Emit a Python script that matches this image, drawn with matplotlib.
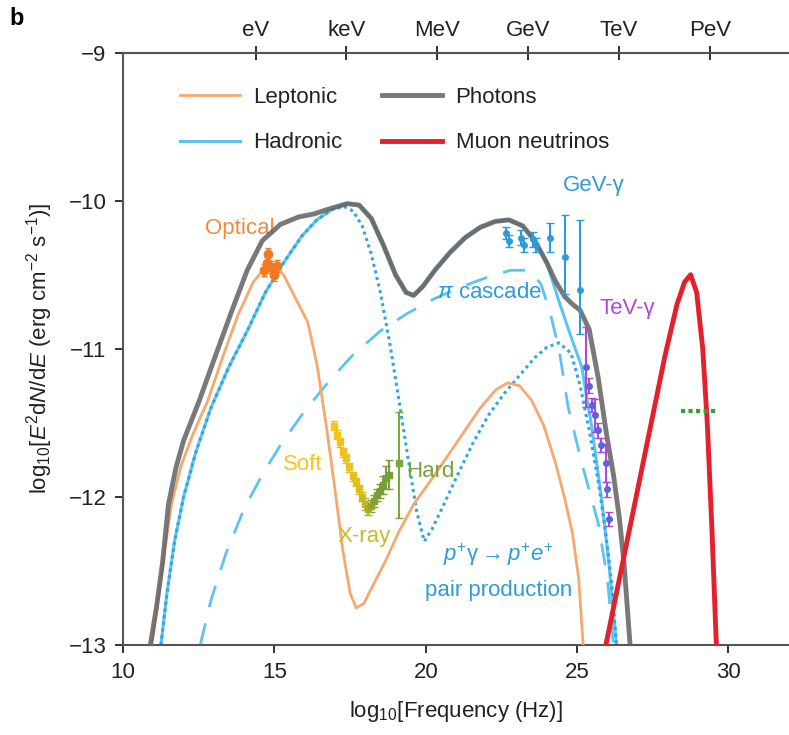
import numpy as np
import matplotlib
matplotlib.use('Agg')
import matplotlib.pyplot as plt

# Fuentes parecidas a Helvetica
plt.rcParams['font.family'] = ['Liberation Sans', 'DejaVu Sans']
plt.rcParams['mathtext.fontset'] = 'custom'
plt.rcParams['mathtext.rm'] = 'Liberation Sans'
plt.rcParams['mathtext.it'] = 'Liberation Sans:italic'
plt.rcParams['mathtext.bf'] = 'Liberation Sans:bold'
plt.rcParams['font.size'] = 16

# Curvas del modelo (log10 frecuencia, log10 E^2 dN/dE)
ph_x = [10.9, 11.1, 11.3, 11.5, 11.75, 12.0, 12.5, 13.1, 13.6, 14.1, 14.6, 15.2, 15.8, 16.3, 16.9, 17.4,
        17.8, 18.2, 18.6, 19.0, 19.35, 19.6, 19.9, 20.3, 20.8, 21.3, 21.8, 22.3, 22.75, 23.2, 23.6, 24.0,
        24.3, 24.6, 24.85, 25.1, 25.4, 25.7, 25.95, 26.2, 26.4, 26.55, 26.75]
ph_y = [-13.0, -12.75, -12.45, -12.05, -11.8, -11.62, -11.36, -11.02, -10.74, -10.47, -10.27, -10.16,
        -10.11, -10.09, -10.05, -10.02, -10.03, -10.12, -10.3, -10.5, -10.62, -10.64, -10.58, -10.47,
        -10.35, -10.25, -10.18, -10.14, -10.13, -10.17, -10.27, -10.42, -10.55, -10.65, -10.7, -10.74,
        -10.87, -11.2, -11.55, -11.85, -12.15, -12.45, -13.0]

lep_x = [10.95, 11.15, 11.35, 11.6, 11.9, 12.3, 12.8, 13.3, 13.8, 14.3, 14.7, 15.0, 15.3, 15.7, 16.1,
         16.4, 16.7, 17.0, 17.25, 17.5, 17.7, 17.95, 18.3, 18.7, 19.1, 19.6, 20.2, 20.8, 21.3, 21.8,
         22.3, 22.7, 23.1, 23.5, 23.9, 24.3, 24.6, 24.85, 25.05, 25.2]
lep_y = [-13.0, -12.7, -12.4, -12.05, -11.8, -11.58, -11.35, -11.05, -10.77, -10.55, -10.45, -10.43,
         -10.5, -10.66, -10.82, -11.1, -11.5, -11.95, -12.35, -12.65, -12.75, -12.72, -12.58, -12.42,
         -12.24, -12.05, -11.88, -11.7, -11.55, -11.4, -11.28, -11.23, -11.25, -11.35, -11.52, -11.78,
         -12.02, -12.25, -12.55, -13.0]

had_x = [11.25, 11.45, 11.7, 12.0, 12.4, 12.9, 13.5, 14.1, 14.7, 15.3, 15.9, 16.4, 16.9, 17.4, 17.8,
         18.2, 18.6, 19.0, 19.35, 19.6, 19.9, 20.3, 20.8, 21.3, 21.8, 22.3, 22.75, 23.2, 23.6, 24.0,
         24.4, 24.8, 25.15, 25.5, 25.8, 26.05, 26.3]
had_y = [-13.0, -12.65, -12.3, -12.0, -11.7, -11.4, -11.12, -10.88, -10.62, -10.42, -10.24, -10.13,
         -10.06, -10.02, -10.03, -10.12, -10.3, -10.5, -10.62, -10.64, -10.58, -10.47, -10.35, -10.25,
         -10.18, -10.14, -10.13, -10.17, -10.27, -10.42, -10.68, -10.92, -11.12, -11.55, -12.0, -12.45,
         -13.0]

pair_x = [11.25, 11.45, 11.7, 12.0, 12.4, 12.9, 13.5, 14.1, 14.7, 15.3, 15.9, 16.4, 16.9, 17.3, 17.6,
          17.9, 18.2, 18.5, 18.8, 19.1, 19.4, 19.7, 19.95, 20.2, 20.6, 21.1, 21.6, 22.1, 22.6, 23.1,
          23.6, 24.0, 24.4, 24.8, 25.1, 25.4, 25.7, 25.95, 26.15, 26.3]
pair_y = [-13.0, -12.65, -12.3, -12.0, -11.7, -11.4, -11.12, -10.88, -10.62, -10.42, -10.24, -10.13,
          -10.06, -10.04, -10.07, -10.17, -10.36, -10.62, -10.95, -11.33, -11.72, -12.1, -12.3, -12.22,
          -12.05, -11.83, -11.62, -11.44, -11.3, -11.18, -11.06, -10.99, -10.96, -11.03, -11.25, -11.55,
          -11.9, -12.25, -12.6, -13.0]

pion_x = [12.55, 12.9, 13.4, 14.0, 14.6, 15.2, 16.0, 16.8, 17.6, 18.5, 19.4, 20.3, 21.2, 22.0, 22.8,
          23.4, 23.8, 24.1, 24.4, 24.7, 25.15, 25.7, 26.0, 26.2]
pion_y = [-13.0, -12.7, -12.38, -12.08, -11.85, -11.65, -11.42, -11.22, -11.04, -10.88, -10.76, -10.66,
          -10.58, -10.52, -10.47, -10.47, -10.56, -10.75, -11.0, -11.39, -11.77, -12.18, -12.55, -13.0]

nu_x = [25.95, 26.4, 26.9, 27.4, 27.9, 28.3, 28.55, 28.75, 28.95, 29.15, 29.3, 29.45, 29.6]
nu_y = [-13.0, -12.55, -12.05, -11.55, -11.05, -10.7, -10.55, -10.5, -10.62, -11.0, -11.5, -12.2, -13.0]

nu_lim_x = [28.42, 29.6]
nu_lim_y = [-11.42, -11.42]

# Datos observados
opt_x = [14.65, 14.75, 14.8, 14.9, 15.0, 15.1]
opt_y = [-10.47, -10.42, -10.36, -10.45, -10.5, -10.44]
opt_err = [0.04, 0.04, 0.04, 0.04, 0.04, 0.04]

xr_x = [16.98, 17.08, 17.18, 17.28, 17.38, 17.48, 17.58, 17.68, 17.78, 17.88, 17.98, 18.08, 18.18,
        18.28, 18.38, 18.48, 18.58, 18.68, 18.78, 19.1]
xr_y = [-11.52, -11.58, -11.63, -11.7, -11.74, -11.8, -11.86, -11.9, -11.95, -12.0, -12.05, -12.08,
        -12.06, -12.03, -11.99, -11.96, -11.92, -11.87, -11.85, -11.77]
xr_err_lo = [0.03, 0.03, 0.03, 0.03, 0.03, 0.03, 0.03, 0.03, 0.03, 0.03, 0.04, 0.04, 0.04, 0.04, 0.04,
             0.05, 0.06, 0.08, 0.1, 0.37]
xr_err_hi = [0.03, 0.03, 0.03, 0.03, 0.03, 0.03, 0.03, 0.03, 0.03, 0.03, 0.04, 0.04, 0.04, 0.04, 0.04,
             0.05, 0.06, 0.08, 0.1, 0.34]
xr_col = ['#f5c518', '#f3c41a', '#f1c41b', '#efc31c', '#edc31d', '#eac21e', '#e6c11f', '#e0c020',
          '#d8be22', '#cdbb24', '#bfb726', '#a8ad2a', '#94a62d', '#86a230', '#7da032', '#7aa035',
          '#78a036', '#76a038', '#74a03a', '#78a83c']

gev_x = [22.65, 22.75, 23.15, 23.25, 23.55, 23.65, 24.1, 24.6, 25.1]
gev_y = [-10.22, -10.27, -10.25, -10.3, -10.26, -10.3, -10.25, -10.38, -10.6]
gev_err_lo = [0.04, 0.04, 0.05, 0.05, 0.05, 0.05, 0.1, 0.25, 0.3]
gev_err_hi = [0.04, 0.04, 0.05, 0.05, 0.05, 0.05, 0.1, 0.28, 0.47]

tev_x = [25.3, 25.4, 25.5, 25.6, 25.7, 25.8, 25.95, 26.0, 26.05]
tev_y = [-11.12, -11.25, -11.38, -11.45, -11.55, -11.65, -11.77, -11.95, -12.15]
tev_err = [0.27, 0.05, 0.05, 0.11, 0.05, 0.05, 0.13, 0.05, 0.05]

# Eje superior de energías
e_labels = ['eV', 'keV', 'MeV', 'GeV', 'TeV', 'PeV']
e_pos = [14.38, 17.38, 20.38, 23.38, 26.38, 29.38]

c_lep = '#f6a86e'
c_had = '#5ec3ee'
c_pair = '#2ea6e2'
c_ph = '#626262'
c_nu = '#e4202c'

fig = plt.figure(figsize=(7.89, 7.35), dpi=100)
ax = fig.add_axes([0.156, 0.1225, 0.844, 0.806])

# Curvas del modelo
l_had, = ax.plot(had_x, had_y, color=c_had, lw=2.2, label='Hadronic', zorder=2)
ax.plot(pion_x, pion_y, color=c_had, lw=2.0, dashes=(8, 6), zorder=2)
ax.plot(pair_x, pair_y, color=c_pair, lw=2.2, ls=(0, (1, 1.2)), zorder=2)
l_lep, = ax.plot(lep_x, lep_y, color=c_lep, lw=2.0, label='Leptonic', zorder=3)
l_ph, = ax.plot(ph_x, ph_y, color=c_ph, lw=3.5, alpha=0.85, label='Photons', zorder=4)
l_nu, = ax.plot(nu_x, nu_y, color=c_nu, lw=3.5, label='Muon neutrinos', zorder=4)
ax.plot(nu_lim_x, nu_lim_y, color='#2fa33a', lw=3, ls=(0, (1, 0.8)), zorder=4)

# Puntos de datos
ax.errorbar(opt_x, opt_y, yerr=opt_err, fmt='o', ms=6, color='#f07a22', capsize=2, lw=1.5, zorder=5)
for x, y, lo, hi, c in zip(xr_x, xr_y, xr_err_lo, xr_err_hi, xr_col):
    ax.errorbar([x], [y], yerr=[[lo], [hi]], fmt='s', ms=4, color=c, capsize=3, lw=1.5, zorder=5)
ax.errorbar(gev_x, gev_y, yerr=[gev_err_lo, gev_err_hi], fmt='o', ms=4, color='#2e9bd8',
            capsize=3, lw=1.5, zorder=5)
ax.errorbar(tev_x, tev_y, yerr=tev_err, fmt='o', ms=4, color='#b348d8', mfc='#5a63e0',
            mec='#5a63e0', capsize=3, lw=1.5, zorder=5)

# Etiquetas dentro del gráfico
ax.text(13.85, -10.19, 'Optical', color='#f08a3c', ha='center', va='center')
ax.text(15.95, -11.78, 'Soft', color='#f2c520', ha='center', va='center')
ax.text(17.95, -12.27, 'X-ray', color='#c8bb2c', ha='center', va='center')
ax.text(20.15, -11.83, 'Hard', color='#7aa23a', ha='center', va='center')
ax.text(25.55, -9.9, 'GeV-γ', color='#2e9bd8', ha='center', va='center')
ax.text(22.1, -10.62, r'$\pi$ cascade', color='#2e9bd8', ha='center', va='center')
ax.text(26.65, -10.73, 'TeV-γ', color='#b348d8', ha='center', va='center')
ax.text(22.4, -12.39, r'$p^{+}\mathrm{\gamma} \rightarrow p^{+}e^{+}$', color='#2e9bd8',
        ha='center', va='center')
ax.text(22.4, -12.63, 'pair production', color='#2e9bd8', ha='center', va='center')

# Ejes
ax.set_xlim(10, 32)
ax.set_ylim(-13, -9)
ax.set_xticks([10, 15, 20, 25, 30])
ax.set_yticks([-13, -12, -11, -10, -9])
ax.set_yticklabels(['\u221213', '\u221212', '\u221211', '\u221210', '\u22129'])
ax.spines['right'].set_visible(False)
for s in ['left', 'bottom', 'top']:
    ax.spines[s].set_linewidth(1.5)
    ax.spines[s].set_color('#555555')
ax.tick_params(direction='out', length=6, width=1.3, colors='#222222', labelsize=16, pad=6)
ax.set_xlabel('log$_{10}$[Frequency (Hz)]', fontsize=16, color='#222222', labelpad=12)
ax.set_ylabel('log$_{10}$[$E^2$d$N$/d$E$ (erg cm$^{-2}$ s$^{-1}$)]', fontsize=16, color='#222222',
              labelpad=10)

top = ax.twiny()
top.set_xlim(ax.get_xlim())
top.set_xticks(e_pos)
top.set_xticklabels(e_labels)
for s in ['right', 'left', 'bottom']:
    top.spines[s].set_visible(False)
top.spines['top'].set_linewidth(1.5)
top.spines['top'].set_color('#555555')
top.tick_params(direction='inout', length=10, width=1.3, colors='#222222', labelsize=16)

# Leyenda en dos columnas
ax.legend(handles=[l_lep, l_had, l_ph, l_nu], ncol=2, frameon=False, loc='upper left',
          bbox_to_anchor=(0.085, 0.942), handlelength=2.7, handletextpad=0.6, columnspacing=1.8,
          labelspacing=1.1, borderaxespad=0, borderpad=0, fontsize=16, labelcolor='#222222')

fig.text(0.012, 0.975, 'b', fontsize=17, fontweight='bold', va='center')

plt.savefig('out.png', dpi=100)
